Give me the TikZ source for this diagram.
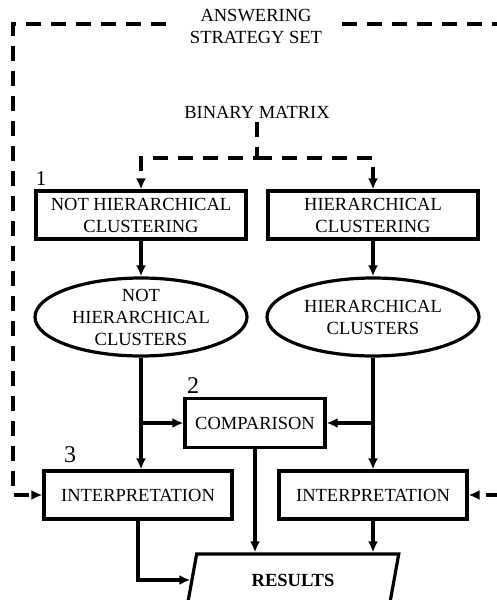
\documentclass[tikz,border=0pt]{standalone}
\usepackage{fontspec}
\setmainfont{Liberation Serif}
\usetikzlibrary{shapes.geometric,arrows.meta}
\tikzstyle{process} = [draw,rectangle,line width=3.2pt,minimum width=210pt,minimum height=48pt,inner sep=0pt,align=center]
\tikzstyle{small process} = [process,minimum width=188pt]
\tikzstyle{cluster} = [draw,ellipse,line width=3.2pt,minimum width=212pt,minimum height=78pt,inner sep=0pt]
\tikzstyle{output} = [draw,trapezium,trapezium left angle=72,trapezium right angle=108,trapezium stretches=true,line width=3.2pt,minimum width=212pt,minimum height=52pt,inner sep=0pt,font=\fontsize{18.5}{22}\selectfont\bfseries]
\tikzstyle{flow} = [draw,line width=3.2pt,-{Latex[length=11pt,width=10pt]}]
\tikzstyle{dashed flow} = [flow,dash pattern=on 15pt off 10pt]
\tikzstyle{number} = [inner sep=0pt]

\begin{document}
\begin{tikzpicture}[x=1pt,y=-1pt,font=\fontsize{18.5}{22}\selectfont]
    \useasboundingbox (0,0) rectangle (497,600);

    \node[align=center] (answer) at (256,26) {ANSWERING\\STRATEGY SET};
    \node (binary) at (257,112) {BINARY MATRIX};

    \foreach \pos/\name/\text in {{(141,215)/nhc/NOT HIERARCHICAL\\CLUSTERING},
                                  {(373,215)/hc/HIERARCHICAL\\CLUSTERING}}
        \node[process] (\name) at \pos {\text};
    \node[cluster, label={[align=center]center:{NOT\\HIERARCHICAL\\CLUSTERS}}] (nhcl) at (141,317) {};
    \node[cluster, label={[align=center]center:{HIERARCHICAL\\CLUSTERS}}] (hcl) at (373,317) {};
    \node[process,minimum width=140pt,minimum height=49pt] (cmp) at (255,423) {COMPARISON};
    \foreach \pos/\name in {{(138,495)/int1}, {(373,495)/int2}}
        \node[small process] (\name) at \pos {INTERPRETATION};
    \node[output] (res) at (293,580) {RESULTS};

    \foreach \pos/\num/\size in {{(41,179)/1/21}, {(193,386)/2/24}, {(70,455)/3/24}}
        \node[number, font=\fontsize{\size}{\size}\selectfont] (n\num) at \pos {\num};

    \coordinate (gapL) at (166,24);
    \coordinate (cornerL) at (13,24);
    \coordinate (gapR) at (342,24);
    \coordinate (cornerR) at (498.5,24);
    \coordinate (split) at (257,158);

    % dashed inputs
    \path[dashed flow] (gapL) -- (cornerL) |- (int1.west);
    \path[dashed flow] (gapR) -- (cornerR) |- (int2.east);
    \path[dashed flow] (binary.south) -- (split) -| (nhc.north);
    \path[dashed flow] (split) -| (hc.north);

    % solid flow
    \foreach \source/\dest in {nhc/nhcl, hc/hcl}
        \path[flow] (\source) -- (\dest);
    \path[flow] (nhcl.south) -- (nhcl.south |- int1.north);
    \path[flow] (hcl.south) -- (hcl.south |- int2.north);
    \path[flow] (nhcl.south |- cmp.west) -- (cmp.west);
    \path[flow] (hcl.south |- cmp.east) -- (cmp.east);
    \path[flow] (cmp.south) -- (cmp.south |- res.north);
    \path[flow] (int2.south) -- (int2.south |- res.north);
    \path[flow] (int1.south) |- (res.west);
\end{tikzpicture}
\end{document}
